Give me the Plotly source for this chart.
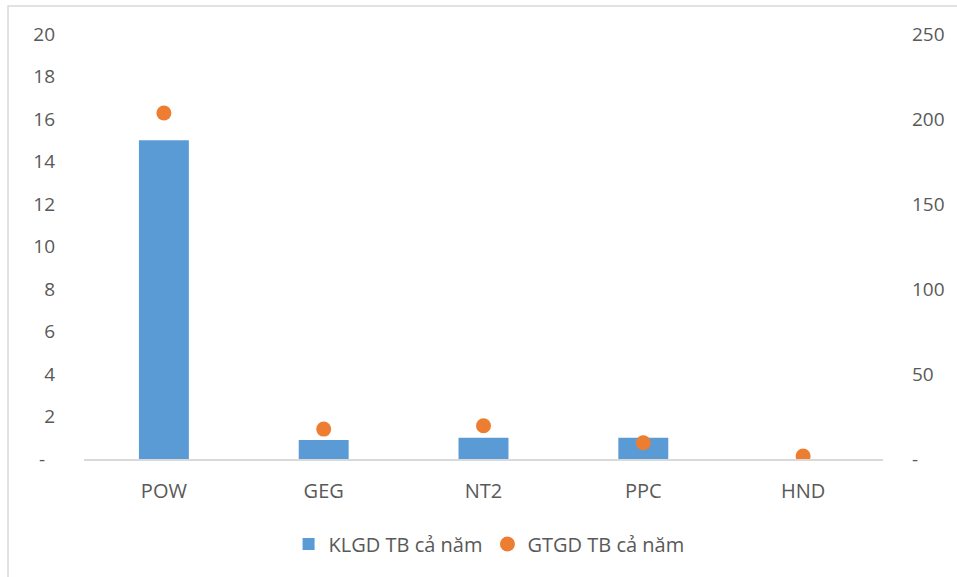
import plotly.graph_objects as go

categories = ["POW", "GEG", "NT2", "PPC", "HND"]
klgd = [15.0, 0.9, 1.0, 1.0, 0.0]
gtgd = [203.5, 17.6, 19.6, 9.6, 1.8]

left_ticks = [0, 2, 4, 6, 8, 10, 12, 14, 16, 18, 20]
left_text = ["-\u00a0\u00a0"] + [str(v) for v in left_ticks[1:]]
right_ticks = [0, 50, 100, 150, 200, 250]
right_text = ["-"] + [str(v) for v in right_ticks[1:]]

FONT = "Open Sans"
GRAY = "#595959"

fig = go.Figure()
fig.add_trace(go.Bar(
    x=categories, y=klgd, name="KLGD TB cả năm",
    marker=dict(color="#5b9bd5", line=dict(width=0)),
    width=0.3125, yaxis="y",
))
fig.add_trace(go.Scatter(
    x=categories, y=gtgd, name="GTGD TB cả năm", mode="markers",
    marker=dict(color="#ed7d31", size=15, line=dict(width=0)),
    yaxis="y2",
))

fig.update_layout(
    width=957, height=577,
    margin=dict(l=84, r=74, t=34, b=118),
    paper_bgcolor="white", plot_bgcolor="white",
    font=dict(family=FONT, size=19, color=GRAY),
    showlegend=True,
    legend=dict(orientation="h", x=0.507, xanchor="center", y=-0.2, yanchor="middle",
                font=dict(family=FONT, size=20, color=GRAY), itemwidth=30,
                traceorder="normal"),
    xaxis=dict(range=[-0.5, 4.5], showgrid=False, zeroline=False,
               showline=True, linecolor="#d9d9d9", linewidth=1.5,
               ticks="", ticklabelstandoff=13,
               tickfont=dict(family=FONT, size=20, color=GRAY)),
    yaxis=dict(range=[0, 20], tickvals=left_ticks, ticktext=left_text,
               showgrid=False, zeroline=False, showline=False, ticks="",
               ticklabelstandoff=28,
               tickfont=dict(family=FONT, size=19, color=GRAY)),
    yaxis2=dict(range=[0, 250], tickvals=right_ticks, ticktext=right_text,
                overlaying="y", side="right",
                showgrid=False, zeroline=False, showline=False, ticks="",
                ticklabelstandoff=28,
                tickfont=dict(family=FONT, size=19, color=GRAY)),
    shapes=[dict(type="rect", xref="paper", yref="paper",
                 x0=-0.0951, x1=1.2, y0=-0.4, y1=1.0659,
                 line=dict(color="#d9d9d9", width=1.5), fillcolor="rgba(0,0,0,0)",
                 layer="below")],
)

fig.write_html(
    "out.html",
    config={"displayModeBar": False},
    post_script="document.body.style.margin='0';document.body.style.overflow='hidden';",
)
